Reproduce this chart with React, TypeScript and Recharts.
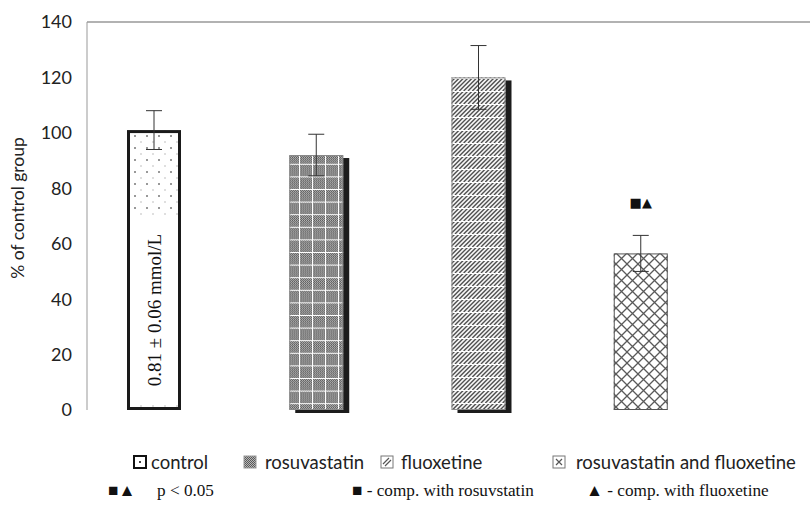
import { BarChart, Bar, XAxis, YAxis, ErrorBar, ReferenceLine, LabelList } from 'recharts'

const groups = ['control', 'rosuvastatin', 'fluoxetine', 'rosuvastatin and fluoxetine']
const percentOfControl = [101, 92, 120, 56.5]
const sem = [7, 7.5, 11.5, 6.5]
const significance = ['', '', '', '■▲']
const barNotes = ['0.81 ± 0.06 mmol/L', '', '', '']
const yTicks = [0, 20, 40, 60, 80, 100, 120, 140]

const data = groups.map((name, i) => ({
  name,
  value: percentOfControl[i],
  err: sem[i],
  sig: significance[i],
  note: barNotes[i],
}))

const SANS = 'Lato, "Open Sans", sans-serif'
const SERIF = '"Liberation Serif", "Times New Roman", serif'

// fill / outline per group, in the same order as `groups`
const BAR_STYLES = [
  { fill: 'url(#dots)', stroke: '#1a1a1a', strokeWidth: 3, shadow: false },
  { fill: 'url(#grid)', stroke: '#8a8a8a', strokeWidth: 1, shadow: true },
  { fill: 'url(#hatch)', stroke: '#8a8a8a', strokeWidth: 1, shadow: true },
  { fill: 'url(#lattice)', stroke: '#555', strokeWidth: 1, shadow: false },
]

function Patterns() {
  const hatchLines = [0, 1, 2, 3, 4, 5, 6].map((k) => {
    const c = (k * 13) / 3
    return `M${c} 0L${c - 13} 13`
  })
  return (
    <svg width={0} height={0} style={{ position: 'absolute' }}>
      <defs>
        <pattern id="dots" width={12} height={12} patternUnits="userSpaceOnUse">
          <rect width={12} height={12} fill="#fff" />
          <circle cx={3} cy={4} r={1} fill="#777" />
          <circle cx={9} cy={10} r={0.7} fill="#a8a8a8" />
        </pattern>
        <pattern id="checker" width={2} height={2} patternUnits="userSpaceOnUse">
          <rect width={2} height={2} fill="#b8b8b8" />
          <rect width={1} height={1} fill="#585858" />
          <rect x={1} y={1} width={1} height={1} fill="#585858" />
        </pattern>
        <pattern id="grid" width={13} height={12.6} patternUnits="userSpaceOnUse">
          <rect width={13} height={12.6} fill="url(#checker)" />
          <path d="M0 0.5H13M0.5 0V12.6" stroke="#fff" strokeWidth={1} />
        </pattern>
        <pattern id="hatch" width={13} height={13} patternUnits="userSpaceOnUse">
          <rect width={13} height={13} fill="#f6f6f6" />
          <path d={hatchLines.join('')} stroke="#505050" strokeWidth={1.4} />
          <path d="M0 0.5H13" stroke="#fff" strokeWidth={1} />
        </pattern>
        <pattern id="lattice" width={11} height={11} patternUnits="userSpaceOnUse">
          <rect width={11} height={11} fill="#fff" />
          <path d="M0 0L11 11M11 0L0 11" stroke="#5a5a5a" strokeWidth={1.3} />
        </pattern>
      </defs>
    </svg>
  )
}

function PatternBar(props: any) {
  const { x, y, width, height, index } = props
  const s = BAR_STYLES[index]
  const inset = s.strokeWidth / 2
  return (
    <g>
      {s.shadow && <rect x={x + 6} y={y + 3} width={width} height={height} fill="#1c1c1c" />}
      <rect x={x} y={y} width={width} height={height} fill={s.fill} />
      <rect
        x={x + inset}
        y={y + inset}
        width={width - s.strokeWidth}
        height={height - s.strokeWidth}
        fill="none"
        stroke={s.stroke}
        strokeWidth={s.strokeWidth}
      />
    </g>
  )
}

function NoteLabel(props: any) {
  const { x, y, width, height, value } = props
  if (!value) return null
  const bottom = y + height - 9
  const top = bottom - 182
  const cx = x + width / 2
  const cy = (top + bottom) / 2
  return (
    <g>
      <rect x={x + 3} y={top} width={width - 6} height={bottom - top} fill="#fff" />
      <text
        x={cx}
        y={cy}
        transform={`rotate(-90, ${cx}, ${cy})`}
        textAnchor="middle"
        dominantBaseline="central"
        fontFamily={SERIF}
        fontSize={19}
        fill="#111"
      >
        {value}
      </text>
    </g>
  )
}

function SigMark(props: any) {
  const { x, y, width, value } = props
  if (!value) return null
  return (
    <text
      x={x + width / 2}
      y={y - 51}
      textAnchor="middle"
      dominantBaseline="central"
      fontFamily='"DejaVu Sans", sans-serif'
      fontSize={13}
      fill="#111"
    >
      {value}
    </text>
  )
}

function AxisTitle(props: any) {
  const { x, y, height } = props.viewBox
  const cx = x + 17
  const cy = y + height / 2 - 8
  return (
    <text
      x={cx}
      y={cy}
      transform={`rotate(-90, ${cx}, ${cy})`}
      textAnchor="middle"
      dominantBaseline="central"
      fontFamily={SANS}
      fontSize={17.5}
      fill="#222"
    >
      % of control group
    </text>
  )
}

function LegendIcon({ index }: { index: number }) {
  if (index === 0) {
    return (
      <svg width={14} height={14}>
        <rect x={1} y={1} width={12} height={12} fill="#fff" stroke="#111" strokeWidth={2} />
        <rect x={6} y={6} width={2} height={2} fill="#444" />
      </svg>
    )
  }
  if (index === 1) {
    return (
      <svg width={14} height={14}>
        <rect x={1} y={1} width={12} height={12} fill="url(#checker)" stroke="#999" strokeWidth={1} />
      </svg>
    )
  }
  if (index === 2) {
    return (
      <svg width={14} height={14}>
        <rect x={1} y={1} width={12} height={12} fill="#fff" stroke="#777" strokeWidth={1} />
        <path d="M3 9L9 3M5 11L11 5" stroke="#555" strokeWidth={1.2} />
      </svg>
    )
  }
  return (
    <svg width={14} height={14}>
      <rect x={1} y={1} width={12} height={12} fill="#fff" stroke="#777" strokeWidth={1} />
      <path d="M4 4L10 10M10 4L4 10" stroke="#555" strokeWidth={1.2} />
    </svg>
  )
}

const legendLeft = [133, 243, 380, 552]
const legendGap = [4, 8, 7, 10]

export default function App() {
  return (
    <div style={{ position: 'absolute', left: 0, top: 0, width: 810, height: 512, background: '#fff' }}>
      <Patterns />
      <BarChart width={810} height={512} data={data} margin={{ top: 22, right: 0, bottom: 102, left: 0 }}>
        <XAxis
          dataKey="name"
          type="category"
          tick={false}
          tickLine={false}
          height={0}
          padding={{ left: -14, right: 88 }}
          axisLine={{ stroke: '#444', strokeWidth: 1.5 }}
        />
        <YAxis
          type="number"
          domain={[0, 140]}
          ticks={yTicks}
          width={87}
          tickLine={false}
          tickSize={6}
          tickMargin={9}
          axisLine={{ stroke: '#999' }}
          tick={{ fontFamily: SANS, fontSize: 18, fill: '#222' }}
          label={<AxisTitle />}
        />
        <ReferenceLine y={140} stroke="#999" strokeWidth={1.5} />
        <Bar dataKey="value" barSize={54} shape={<PatternBar />} isAnimationActive={false}>
          <ErrorBar dataKey="err" width={8} stroke="#333" strokeWidth={1} />
          <LabelList dataKey="note" content={<NoteLabel />} />
          <LabelList dataKey="sig" content={<SigMark />} />
        </Bar>
      </BarChart>

      {groups.map((g, i) => (
        <div
          key={g}
          style={{
            position: 'absolute',
            left: legendLeft[i],
            top: 451,
            display: 'flex',
            alignItems: 'center',
            gap: legendGap[i],
            fontFamily: SANS,
            fontSize: 18.5,
            color: '#222',
            whiteSpace: 'nowrap',
            lineHeight: '22px',
          }}
        >
          <LegendIcon index={i} />
          <span>{g}</span>
        </div>
      ))}

      <div style={{ position: 'absolute', top: 480, left: 0, fontFamily: SERIF, fontSize: 17.2, color: '#111', whiteSpace: 'nowrap', lineHeight: '22px' }}>
        <span style={{ position: 'absolute', left: 108 }}>■▲</span>
        <span style={{ position: 'absolute', left: 157 }}>p &lt; 0.05</span>
        <span style={{ position: 'absolute', left: 352 }}>■ - comp. with rosuvstatin</span>
        <span style={{ position: 'absolute', left: 586 }}>▲ - comp. with fluoxetine</span>
      </div>
    </div>
  )
}
